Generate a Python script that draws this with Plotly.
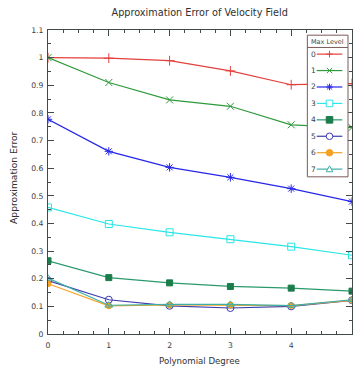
import plotly.graph_objects as go

degrees = [0, 1, 2, 3, 4, 5]
levels = ["0", "1", "2", "3", "4", "5", "6", "7"]
err_0 = [1.000, 0.998, 0.989, 0.952, 0.902, 0.906]
err_1 = [1.000, 0.910, 0.847, 0.824, 0.757, 0.747]
err_2 = [0.777, 0.661, 0.603, 0.567, 0.526, 0.479]
err_3 = [0.458, 0.398, 0.368, 0.343, 0.316, 0.285]
err_4 = [0.265, 0.204, 0.185, 0.172, 0.166, 0.155]
err_5 = [0.193, 0.124, 0.102, 0.094, 0.100, 0.122]
err_6 = [0.182, 0.102, 0.105, 0.105, 0.103, 0.122]
err_7 = [0.202, 0.104, 0.107, 0.107, 0.103, 0.124]
series = [err_0, err_1, err_2, err_3, err_4, err_5, err_6, err_7]

colors = ["#e4403c", "#2f9a3c", "#2626ea", "#2ae6e6", "#1c7c4c", "#3c3cae", "#f4a224", "#3cb0a8"]
line_colors = ["#e4403c", "#2f9a3c", "#2626ea", "#2ae6e6", "#2a9a6c", "#3c3cae", "#f4a224", "#3cb0a8"]
symbols = ["cross-thin-open", "x-thin-open", "asterisk-open", "square-open",
           "square", "circle-open", "circle", "triangle-up-open"]

W, H = 353, 367
L, R, T, B = 47.7, 352.0, 29.5, 334.3
AX = "#3f4a4a"
FONT = "DejaVu Sans"

fig = go.Figure()
for i, ys in enumerate(series):
    fig.add_trace(go.Scatter(
        x=degrees, y=ys, mode="lines+markers", name=levels[i],
        line=dict(color=line_colors[i], width=1.2),
        marker=dict(symbol=symbols[i], size=7 if i not in (4, 6) else 6,
                    color=colors[i], line=dict(color=colors[i], width=1)),
        showlegend=False,
    ))

def px_x(p):
    return (p - L) / (R - L)

def px_y(p):
    return (B - p) / (B - T)

shapes = []
annotations = []
# legend box
bx0, bx1, by0, by1 = 307.3, 348.0, 34.7, 176.7
shapes.append(dict(type="rect", xref="paper", yref="paper", layer="above",
                   x0=px_x(bx0), x1=px_x(bx1), y0=px_y(by0), y1=px_y(by1),
                   fillcolor="white", line=dict(color="#7a5a5a", width=1)))
shapes.append(dict(type="line", xref="paper", yref="paper", layer="above",
                   x0=px_x(bx0), x1=px_x(bx1), y0=px_y(47.0), y1=px_y(47.0),
                   line=dict(color="#7a5a5a", width=1)))
annotations.append(dict(text="Max Level", xref="paper", yref="paper",
                        x=px_x((bx0 + bx1) / 2), y=px_y(41.2), showarrow=False,
                        xanchor="center", yanchor="middle",
                        font=dict(family=FONT, size=6.5, color="#404040")))

lx0, lx1, mx = 316.7, 342.3, 329.5
s = 3.3
for i in range(len(levels)):
    cy = 53.7 + 16.47 * i
    c = colors[i]
    annotations.append(dict(text=levels[i], xref="paper", yref="paper",
                            x=px_x(309.0), y=px_y(cy), showarrow=False,
                            xanchor="left", yanchor="middle",
                            font=dict(family=FONT, size=7.5, color="#404040")))
    shapes.append(dict(type="line", xref="paper", yref="paper", layer="above",
                       x0=px_x(lx0), x1=px_x(lx1), y0=px_y(cy), y1=px_y(cy),
                       line=dict(color=line_colors[i], width=1.2)))
    sym = symbols[i]
    def P(dx, dy):
        return f"{px_x(mx + dx)},{px_y(cy + dy)}"
    if sym in ("cross-thin-open", "asterisk-open"):
        shapes.append(dict(type="path", xref="paper", yref="paper", layer="above",
                           path=f"M{P(-s,0)} L{P(s,0)} M{P(0,-s)} L{P(0,s)}",
                           line=dict(color=c, width=1)))
    if sym in ("x-thin-open", "asterisk-open"):
        d = s * 0.8
        shapes.append(dict(type="path", xref="paper", yref="paper", layer="above",
                           path=f"M{P(-d,-d)} L{P(d,d)} M{P(-d,d)} L{P(d,-d)}",
                           line=dict(color=c, width=1)))
    if sym in ("square-open", "square"):
        shapes.append(dict(type="rect", xref="paper", yref="paper", layer="above",
                           x0=px_x(mx - s), x1=px_x(mx + s), y0=px_y(cy - s), y1=px_y(cy + s),
                           fillcolor=c if sym == "square" else "white",
                           line=dict(color=c, width=1)))
    if sym in ("circle-open", "circle"):
        shapes.append(dict(type="circle", xref="paper", yref="paper", layer="above",
                           x0=px_x(mx - s), x1=px_x(mx + s), y0=px_y(cy - s), y1=px_y(cy + s),
                           fillcolor=c if sym == "circle" else "white",
                           line=dict(color=c, width=1)))
    if sym == "triangle-up-open":
        shapes.append(dict(type="path", xref="paper", yref="paper", layer="above",
                           path=f"M{P(-s,s*0.8)} L{P(s,s*0.8)} L{P(0,-s)} Z",
                           fillcolor="white", line=dict(color=c, width=1)))

# axis titles as annotations at measured positions
annotations.append(dict(text="Polynomial Degree", xref="paper", yref="paper",
                        x=px_x(199.5), y=px_y(361.7), showarrow=False,
                        xanchor="center", yanchor="middle",
                        font=dict(family=FONT, size=8.6, color="#303030")))
annotations.append(dict(text="Approximation Error", xref="paper", yref="paper",
                        x=px_x(12.5), y=px_y(177.0), showarrow=False, textangle=-90,
                        xanchor="center", yanchor="middle",
                        font=dict(family=FONT, size=9.2, color="#303030")))

fig.update_layout(
    width=W, height=H,
    margin=dict(l=L, r=W - R, t=T, b=H - B, pad=0, autoexpand=False),
    paper_bgcolor="white", plot_bgcolor="white",
    font=dict(family=FONT, size=8, color="#404040"),
    title=dict(text="Approximation Error of Velocity Field", x=199.7 / W, xanchor="center",
               y=1 - 12.5 / H, yanchor="middle", yref="container",
               font=dict(family=FONT, size=9.7, color="#303030")),
    shapes=shapes, annotations=annotations,
    showlegend=False,
)
fig.update_xaxes(
    range=[0, 5], tickmode="array", tickvals=degrees, ticktext=[str(d) for d in degrees],
    ticks="inside", ticklen=6, tickcolor=AX, tickwidth=1,
    minor=dict(dtick=0.25, ticks="inside", ticklen=3, tickcolor=AX, tickwidth=1, showgrid=False),
    showline=True, linecolor=AX, linewidth=1, mirror="ticks", showgrid=False, zeroline=False,
    tickfont=dict(family=FONT, size=7.7, color="#404040"), ticklabelstandoff=4,
    automargin=False,
)
fig.update_yaxes(
    range=[0, 1.1], dtick=0.1, tick0=0,
    ticks="inside", ticklen=6, tickcolor=AX, tickwidth=1,
    minor=dict(dtick=0.05, ticks="inside", ticklen=3, tickcolor=AX, tickwidth=1, showgrid=False),
    showline=True, linecolor=AX, linewidth=1, mirror="ticks", showgrid=False, zeroline=False,
    tickfont=dict(family=FONT, size=7.7, color="#404040"), ticklabelstandoff=2,
    automargin=False,
)

fig.write_html("out.html", config={"displayModeBar": False},
               post_script="document.body.style.margin='0';document.body.style.overflow='hidden';")
